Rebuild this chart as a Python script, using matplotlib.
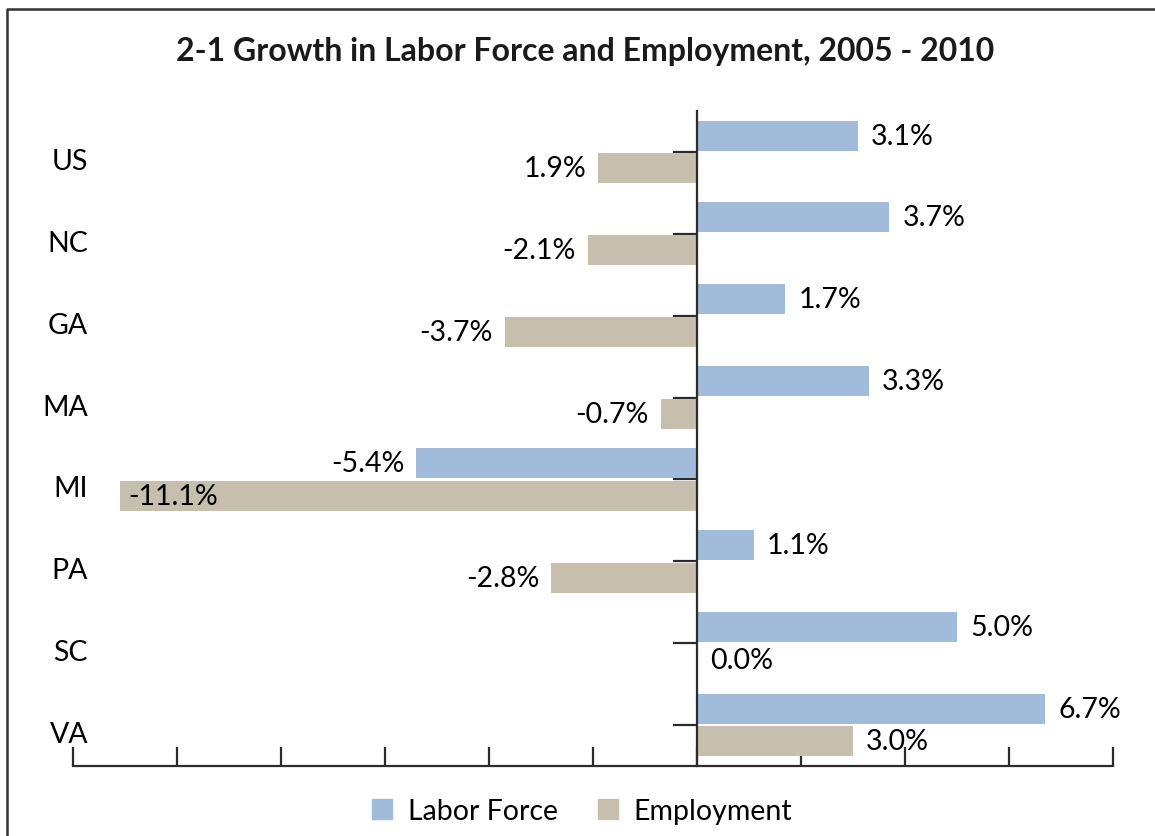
import matplotlib.pyplot as plt
import matplotlib.transforms as mtransforms
from matplotlib.lines import Line2D
from matplotlib.patches import Patch

states = ["US", "NC", "GA", "MA", "MI", "PA", "SC", "VA"]
labor_force = [3.1, 3.7, 1.7, 3.3, -5.4, 1.1, 5.0, 6.7]
employment = [-1.9, -2.1, -3.7, -0.7, -11.1, -2.8, 0.0, 3.0]
labor_labels = ["3.1%", "3.7%", "1.7%", "3.3%", "-5.4%", "1.1%", "5.0%", "6.7%"]
emp_labels = ["1.9%", "-2.1%", "-3.7%", "-0.7%", "-11.1%", "-2.8%", "0.0%", "3.0%"]

blue = "#A1BCDB"
tan = "#C6BFAE"
dark = "#2b2b2b"

plt.rcParams['font.family'] = ['Lato', 'DejaVu Sans']

W, H = 1155, 837
fig = plt.figure(figsize=(W / 100, H / 100), dpi=100)
ax = fig.add_axes([73 / W, 1 - 767 / H, 1040 / W, 655 / H])

ypos = list(range(len(states)))
bh = 0.366
off = 0.2
ax.barh([y - off for y in ypos], labor_force, height=bh, color=blue, zorder=2)
ax.barh([y + off for y in ypos], employment, height=bh, color=tan, zorder=2)

ax.set_xlim(-12, 8)
ax.set_ylim(7.5, -0.5)

# data labels
fs = 20.5
for y, v, s in zip(ypos, labor_force, labor_labels):
    dx = 13 if v >= 0 else -12
    ax.annotate(s, (v, y - off), xytext=(dx * 0.72, 0), textcoords="offset points",
                ha="left" if v >= 0 else "right", va="center", fontsize=fs, color="black")
for y, v, s in zip(ypos, employment, emp_labels):
    if v < -10:
        ax.annotate(s, (v, y + off), xytext=(6, 0), textcoords="offset points",
                    ha="left", va="center", fontsize=fs, color="black")
    else:
        dx = 13 if v >= 0 else -12
        ax.annotate(s, (v, y + off), xytext=(dx * 0.72, 0), textcoords="offset points",
                    ha="left" if v >= 0 else "right", va="center", fontsize=fs, color="black")

# category labels at the far left
trans = mtransforms.blended_transform_factory(ax.transAxes, ax.transData)
for y, s in zip(ypos, states):
    ax.text(15 / 1040, y + 0.11, s, transform=trans, ha="right", va="center",
            fontsize=fs, color="black")

# axes styling
for side in ["top", "right"]:
    ax.spines[side].set_visible(False)
ax.spines["left"].set_position(("data", 0))
ax.spines["left"].set_color(dark)
ax.spines["left"].set_linewidth(1.6)
ax.spines["bottom"].set_color(dark)
ax.spines["bottom"].set_linewidth(1.6)
ax.set_xticks(range(-12, 9, 2))
ax.set_xticklabels([])
ax.set_yticks(ypos)
ax.set_yticklabels([])
ax.tick_params(axis="x", direction="in", length=14, width=1.6, color=dark)
ax.tick_params(axis="y", direction="out", length=17, width=1.6, color=dark)

fig.text(0.507, 1 - 52 / H, "2-1 Growth in Labor Force and Employment, 2005 - 2010",
         ha="center", va="center", fontsize=23, fontweight="bold", color="#1a1a1a")

handles = [Patch(color=blue, label="Labor Force"), Patch(color=tan, label="Employment")]
fig.legend(handles=handles, loc="center", bbox_to_anchor=(0.504, 1 - 812 / H), ncol=2,
           frameon=False, fontsize=fs, handlelength=0.7, handleheight=0.7,
           handletextpad=0.55, columnspacing=1.4)

# outer frame
fig.add_artist(Line2D([7 / W, 7 / W, 1.01], [-0.01, 1 - 10 / H, 1 - 10 / H],
                      transform=fig.transFigure, color="#333333", lw=1.8))

fig.savefig("out.png", dpi=100)
